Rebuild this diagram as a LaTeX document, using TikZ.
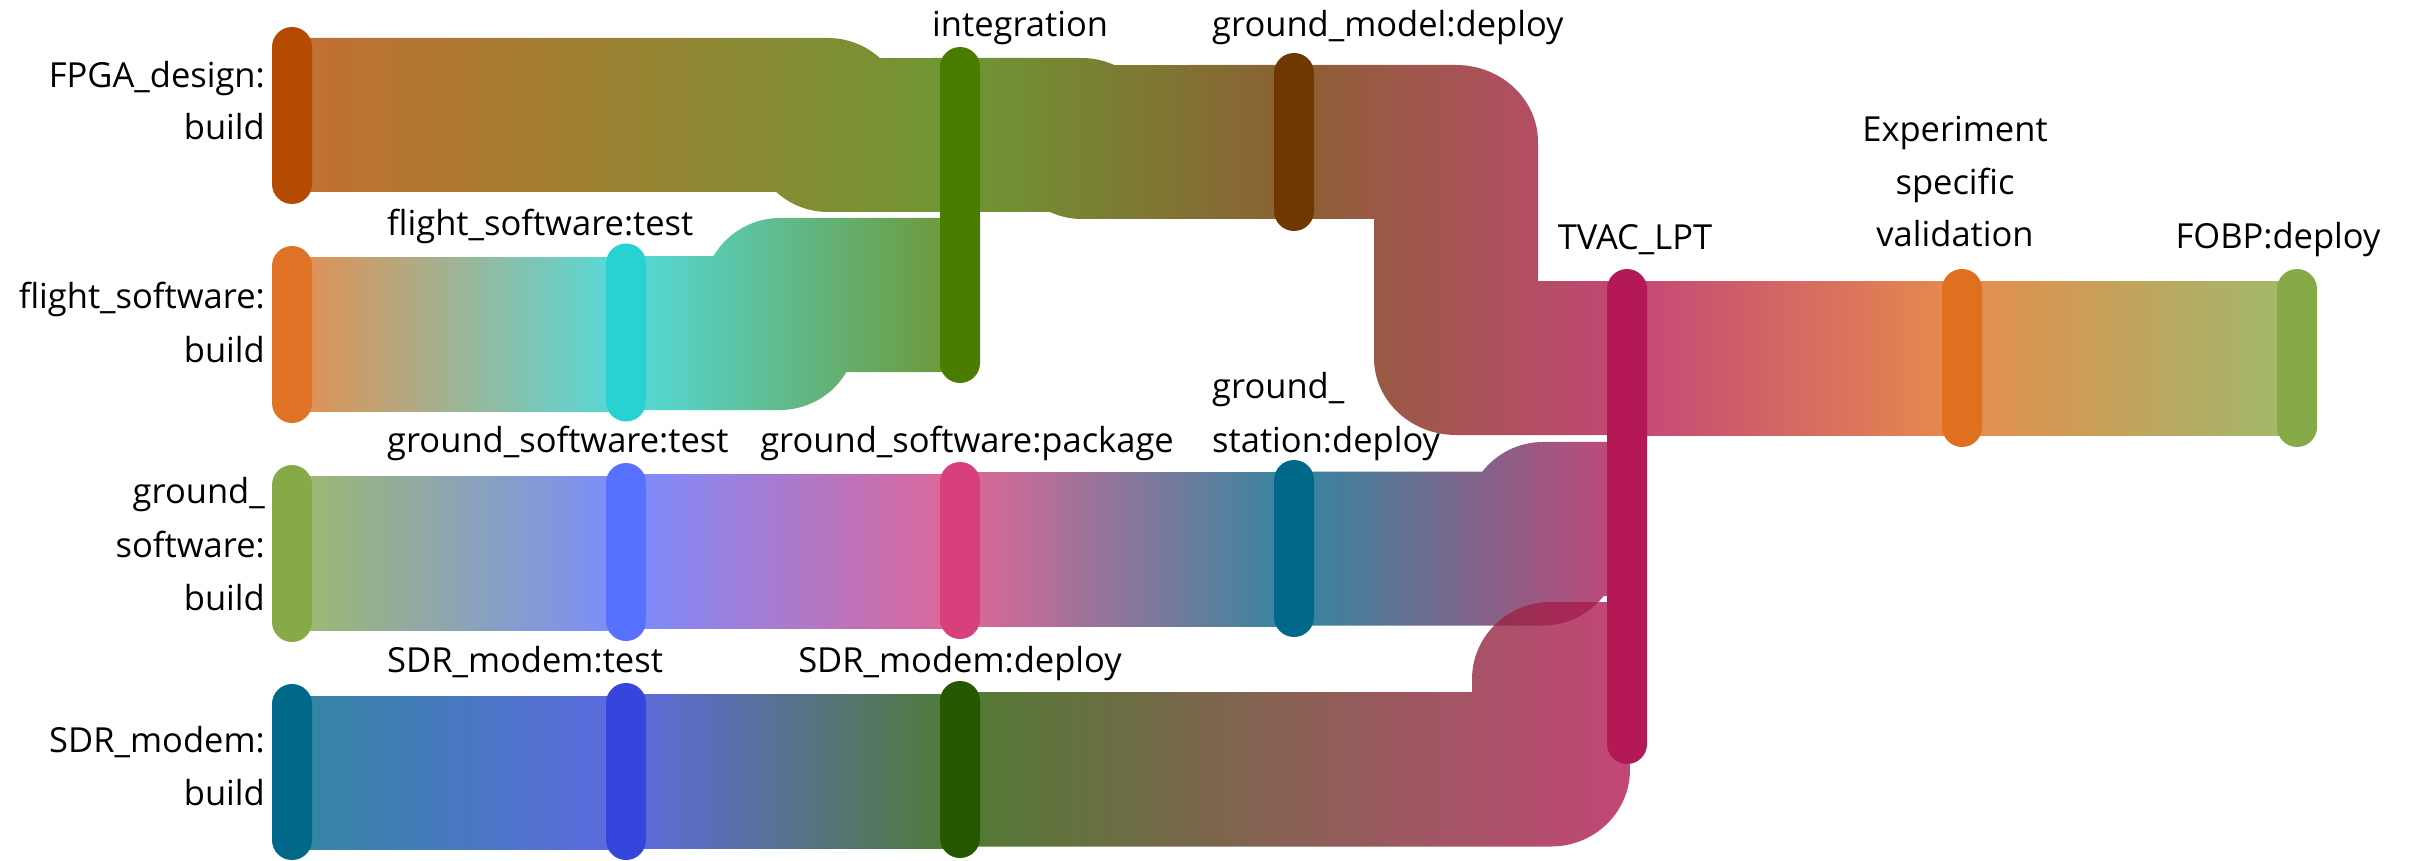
\documentclass[tikz,border=0pt]{standalone}
\usepackage{fontspec}
\setmainfont{Open Sans}
\pgfdeclarelayer{flows}
\pgfsetlayers{flows,main}
% node colours
\definecolor{cFPGA}{HTML}{B54B00}
\definecolor{cFSB}{HTML}{E07225}
\definecolor{cFST}{HTML}{28D2D3}
\definecolor{cGSB}{HTML}{86AA48}
\definecolor{cGST}{HTML}{5870FF}
\definecolor{cGSP}{HTML}{D8407C}
\definecolor{cGSD}{HTML}{006888}
\definecolor{cSDRB}{HTML}{006888}
\definecolor{cSDRT}{HTML}{3645DC}
\definecolor{cSDRD}{HTML}{255800}
\definecolor{cINT}{HTML}{4A7C00}
\definecolor{cGM}{HTML}{6E3800}
\definecolor{cTVAC}{HTML}{B41855}
\definecolor{cEXP}{HTML}{E07020}
\definecolor{cFOBP}{HTML}{86AA48}
\begin{document}
\begin{tikzpicture}[x=1pt,y=-1pt,
  bar/.style={rectangle, rounded corners=20pt, minimum width=40pt, inner sep=0pt, outer sep=0pt, draw=none},
  lbl/.style={font=\fontsize{34.5}{40}\selectfont, inner sep=0pt, text=black},
  flow/.style={opacity=0.8}]
\useasboundingbox (0,0) rectangle (2409,861);

% ---- stage bars ----
\node[bar, fill=cFPGA, minimum height=177pt] (fpga) at (292,115.5) {};
\node[bar, fill=cFSB,  minimum height=177pt] (fsb)  at (292,334.5) {};
\node[bar, fill=cGSB,  minimum height=177pt] (gsb)  at (292,553.5) {};
\node[bar, fill=cSDRB, minimum height=176pt] (sdrb) at (292,772) {};
\node[bar, fill=cFST,  minimum height=178pt] (fst)  at (626,332.5) {};
\node[bar, fill=cGST,  minimum height=178pt] (gst)  at (626,552) {};
\node[bar, fill=cSDRT, minimum height=177pt] (sdrt) at (626,771.5) {};
\node[bar, fill=cINT,  minimum height=336pt] (int)  at (960,215) {};
\node[bar, fill=cGSP,  minimum height=177pt] (gsp)  at (960,550.5) {};
\node[bar, fill=cSDRD, minimum height=177pt] (sdrd) at (960,769.5) {};
\node[bar, fill=cGM,   minimum height=178pt] (gm)   at (1294,142) {};
\node[bar, fill=cGSD,  minimum height=177pt] (gsd)  at (1294,548.5) {};
\node[bar, fill=cTVAC, minimum height=495pt] (tvac) at (1627,516.5) {};
\node[bar, fill=cEXP,  minimum height=178pt] (exp)  at (1962,358) {};
\node[bar, fill=cFOBP, minimum height=178pt] (fobp) at (2297,358) {};

% ---- flows ----
\begin{pgfonlayer}{flows}
% FPGA_design:build -> integration
\shade[flow, left color=cFPGA, right color=cINT]
  (292,38) -- (828,38) arc[start angle=90, end angle=47.75, radius=77pt]
  -- (960,58) -- (960,212) -- (828,212)
  arc[start angle=270, end angle=227.75, radius=77pt] -- (292,192) -- cycle;
% flight_software:build -> flight_software:test
\shade[flow, left color=cFSB, right color=cFST] (292,257) rectangle (626,411);
% flight_software:test -> integration
\shade[flow, left color=cFST, right color=cINT]
  (626,256) -- (713.6,256) arc[start angle=149.57, end angle=90, radius=77pt]
  -- (960,218) -- (960,372) -- (846.4,372)
  arc[start angle=-30.43, end angle=-90, radius=77pt] -- (626,410) -- cycle;
% integration -> ground_model:deploy
\shade[flow, left color=cINT, right color=cGM]
  (960,58) -- (1082,58) arc[start angle=90, end angle=65.38, radius=77pt]
  -- (1294,65) -- (1294,219) -- (1082,219)
  arc[start angle=270, end angle=245.38, radius=77pt] -- (960,212) -- cycle;
% ground_model:deploy -> TVAC_LPT
\shade[flow, left color=cGM, right color=cTVAC]
  (1294,65) -- (1456,65) arc[start angle=90, end angle=0, x radius=82pt, y radius=77pt]
  -- (1538,281) -- (1627,281) -- (1627,435) -- (1456,435)
  arc[start angle=270, end angle=180, x radius=82pt, y radius=77pt]
  -- (1374,219) -- (1294,219) -- cycle;
% ground_software chain
\shade[flow, left color=cGSB, right color=cGST] (292,476) rectangle (626,630);
\shade[flow, left color=cGST, right color=cGSP] (626,474) rectangle (960,628);
\shade[flow, left color=cGSP, right color=cGSD] (960,472) rectangle (1294,626);
% ground_station:deploy -> TVAC_LPT
\shade[flow, left color=cGSD, right color=cTVAC]
  (1294,471.5) -- (1482.4,471.5) arc[start angle=141.92, end angle=90, radius=77pt]
  -- (1627,442) -- (1627,596) -- (1603.6,596)
  arc[start angle=-38.08, end angle=-90, radius=77pt] -- (1294,625.5) -- cycle;
% SDR_modem chain
\shade[flow, left color=cSDRB, right color=cSDRT] (292,696) rectangle (626,849);
\shade[flow, left color=cSDRT, right color=cSDRD] (626,694) rectangle (960,848);
% SDR_modem:deploy -> TVAC_LPT
\shade[flow, left color=cSDRD, right color=cTVAC]
  (960,692) -- (1472,692) -- (1472,679)
  arc[start angle=180, end angle=90, x radius=79pt, y radius=77pt]
  -- (1627,602) -- (1627,756) -- (1630,756) -- (1630,769.5)
  arc[start angle=0, end angle=-90, x radius=79pt, y radius=77pt]
  -- (960,846.5) -- cycle;
% TVAC_LPT -> Experiment specific validation -> FOBP:deploy
\shade[flow, left color=cTVAC, right color=cEXP] (1627,281) rectangle (1962,435);
\shade[flow, left color=cEXP, right color=cFOBP] (1962,281) rectangle (2297,435);
\end{pgfonlayer}

% ---- labels ----
\node[lbl, anchor=base east] (lfpga1) at (265,88)  {FPGA\_design:};
\node[lbl, anchor=base east] (lfpga2) at (265,140) {build};
\node[lbl, anchor=base east] (lfsb1)  at (265,308) {flight\_software:};
\node[lbl, anchor=base east] (lfsb2)  at (265,362) {build};
\node[lbl, anchor=base east] (lgsb1)  at (265,503) {ground\_};
\node[lbl, anchor=base east] (lgsb2)  at (265,557) {software:};
\node[lbl, anchor=base east] (lgsb3)  at (265,610) {build};
\node[lbl, anchor=base east] (lsdrb1) at (265,752) {SDR\_modem:};
\node[lbl, anchor=base east] (lsdrb2) at (265,805) {build};
\node[lbl, anchor=base west] (lfst)  at (387,236) {flight\_software:test};
\node[lbl, anchor=base west] (lgst)  at (387,452) {ground\_software:test};
\node[lbl, anchor=base west] (lsdrt) at (387,672) {SDR\_modem:test};
\node[lbl, anchor=base west] (lint)  at (932,37)  {integration};
\node[lbl, anchor=base]      (lgsp)  at (967,452) {ground\_software:package};
\node[lbl, anchor=base]      (lsdrd) at (960,672) {SDR\_modem:deploy};
\node[lbl, anchor=base west] (lgm)   at (1212,37) {ground\_model:deploy};
\node[lbl, anchor=base west] (lgsd1) at (1212,398) {ground\_};
\node[lbl, anchor=base west] (lgsd2) at (1212,452) {station:deploy};
\node[lbl, anchor=base]      (ltvac) at (1635,250) {TVAC\_LPT};
\node[lbl, anchor=base]      (lexp1) at (1955,142) {Experiment};
\node[lbl, anchor=base]      (lexp2) at (1955,195) {specific};
\node[lbl, anchor=base]      (lexp3) at (1955,247) {validation};
\node[lbl, anchor=base]      (lfobp) at (2278,248) {FOBP:deploy};
\end{tikzpicture}
\end{document}
